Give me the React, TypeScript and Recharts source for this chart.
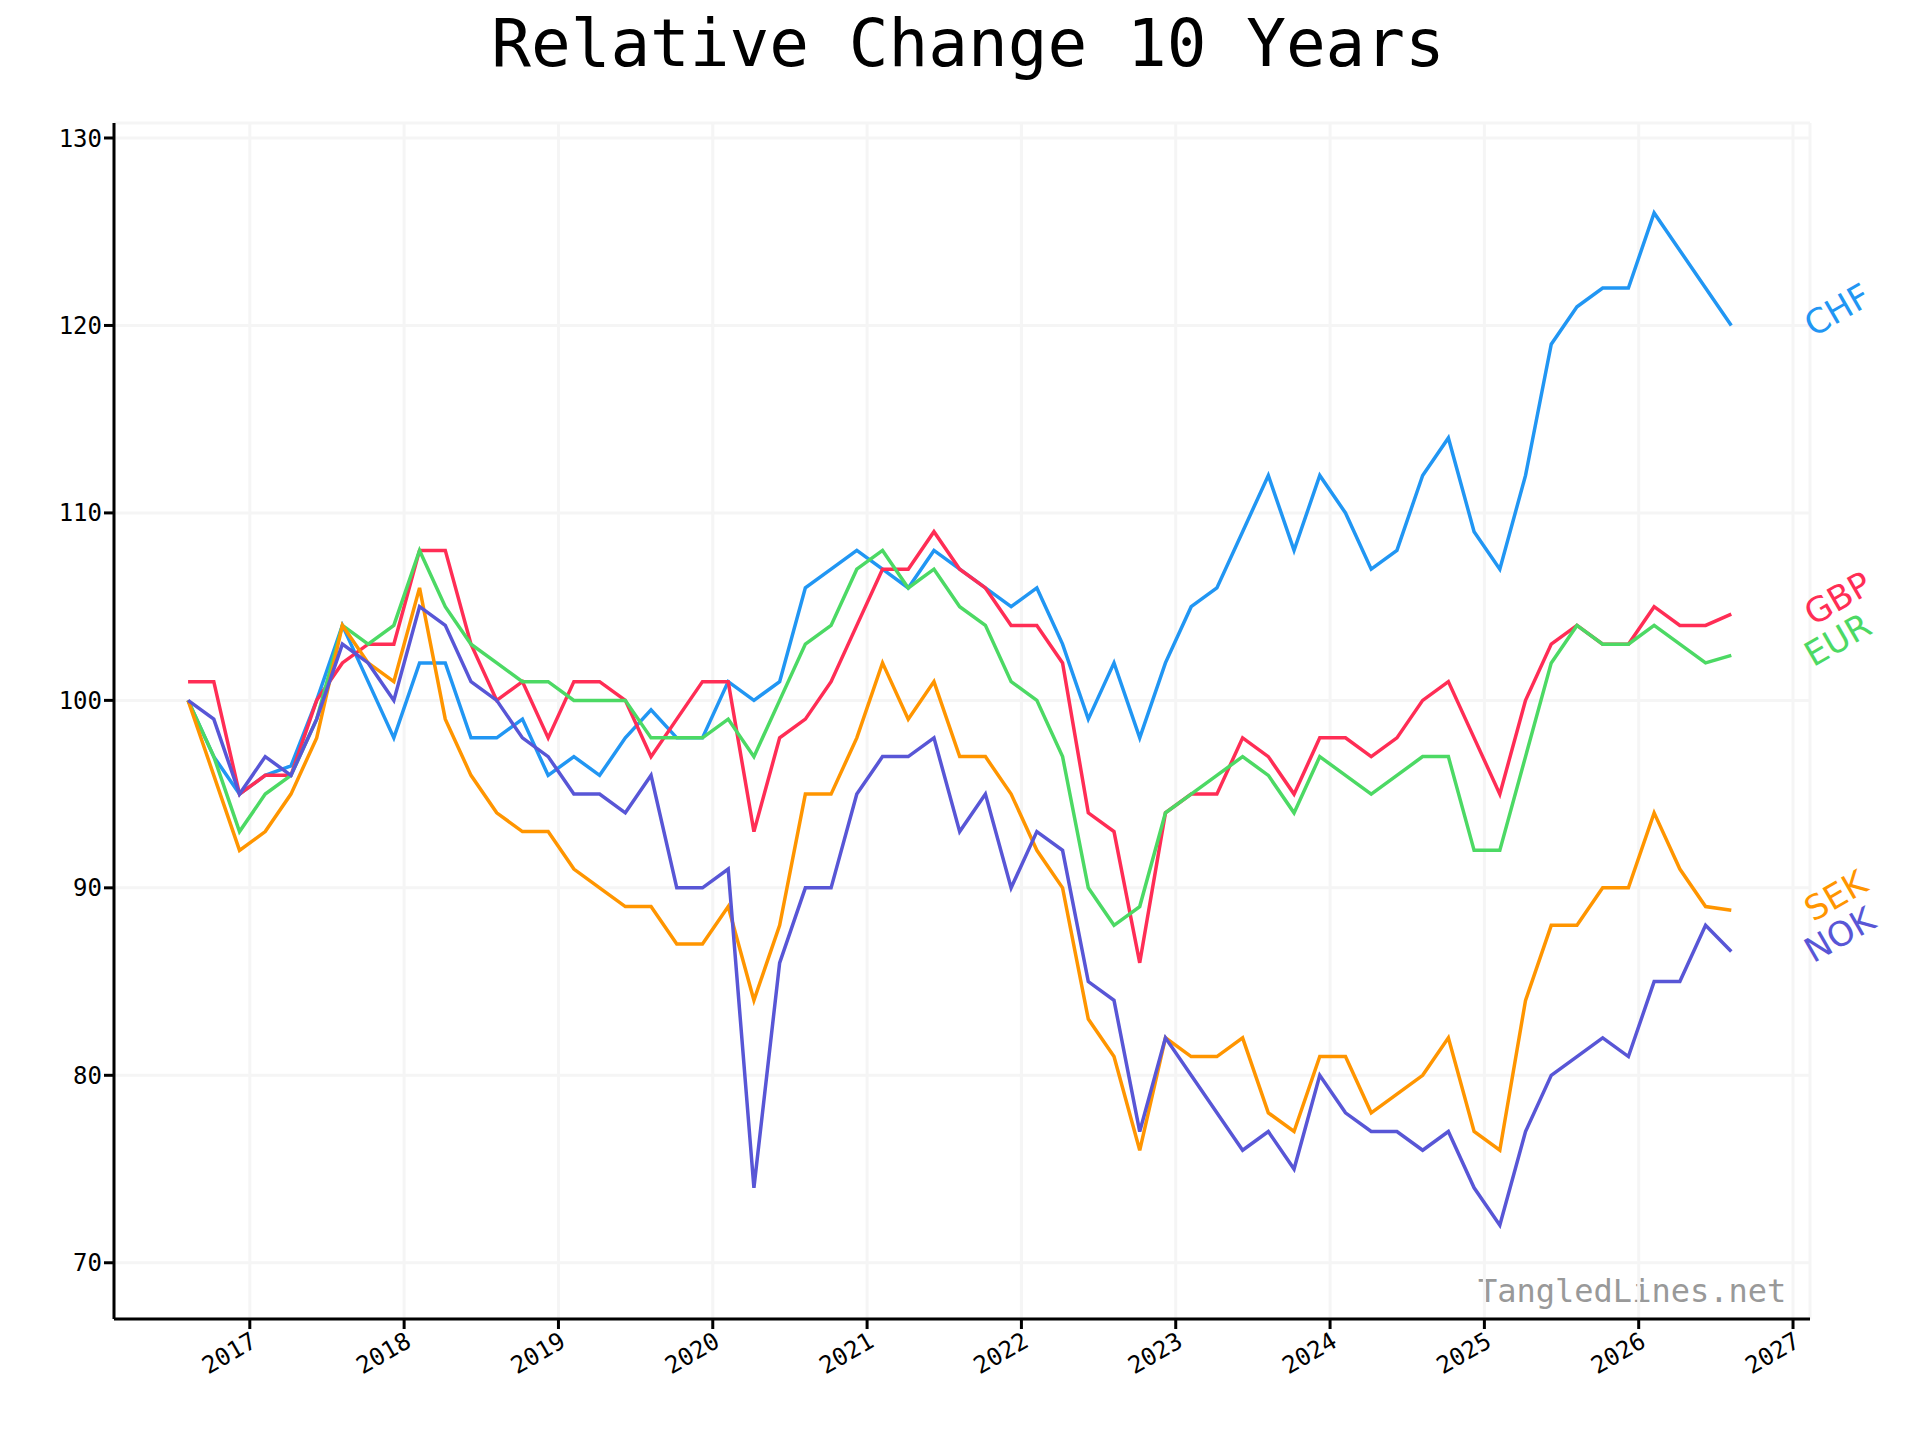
import { CartesianGrid, Line, LineChart, XAxis, YAxis } from "recharts";

const START = 2016.6;
const STEP = 1 / 6;

const chf = [100, 97, 95, 96, 96.5, 100, 104, 101, 98, 102, 102, 98, 98, 99, 96, 97, 96, 98, 99.5, 98, 98, 101, 100, 101, 106, 107, 108, 107, 106, 108, 107, 106, 105, 106, 103, 99, 102, 98, 102, 105, 106, 109, 112, 108, 112, 110, 107, 108, 112, 114, 109, 107, 112, 119, 121, 122, 122, 126, 124, 122, 120];
const gbp = [101, 101, 95, 96, 96, 100, 102, 103, 103, 108, 108, 103, 100, 101, 98, 101, 101, 100, 97, 99, 101, 101, 93, 98, 99, 101, 104, 107, 107, 109, 107, 106, 104, 104, 102, 94, 93, 86, 94, 95, 95, 98, 97, 95, 98, 98, 97, 98, 100, 101, 98, 95, 100, 103, 104, 103, 103, 105, 104, 104, 104.6];
const eur = [100, 97, 93, 95, 96, 99, 104, 103, 104, 108, 105, 103, 102, 101, 101, 100, 100, 100, 98, 98, 98, 99, 97, 100, 103, 104, 107, 108, 106, 107, 105, 104, 101, 100, 97, 90, 88, 89, 94, 95, 96, 97, 96, 94, 97, 96, 95, 96, 97, 97, 92, 92, 97, 102, 104, 103, 103, 104, 103, 102, 102.4];
const sek = [100, 96, 92, 93, 95, 98, 104, 102, 101, 106, 99, 96, 94, 93, 93, 91, 90, 89, 89, 87, 87, 89, 84, 88, 95, 95, 98, 102, 99, 101, 97, 97, 95, 92, 90, 83, 81, 76, 82, 81, 81, 82, 78, 77, 81, 81, 78, 79, 80, 82, 77, 76, 84, 88, 88, 90, 90, 94, 91, 89, 88.8];
const nok = [100, 99, 95, 97, 96, 99, 103, 102, 100, 105, 104, 101, 100, 98, 97, 95, 95, 94, 96, 90, 90, 91, 74, 86, 90, 90, 95, 97, 97, 98, 93, 95, 90, 93, 92, 85, 84, 77, 82, 80, 78, 76, 77, 75, 80, 78, 77, 77, 76, 77, 74, 72, 77, 80, 81, 82, 81, 85, 85, 88, 86.6];

const yearTicks = [2017, 2018, 2019, 2020, 2021, 2022, 2023, 2024, 2025, 2026, 2027];
const valueTicks = [70, 80, 90, 100, 110, 120, 130];

const series = [
  { key: "CHF", values: chf, color: "#2196f3" },
  { key: "GBP", values: gbp, color: "#ff2d55" },
  { key: "EUR", values: eur, color: "#4cd964" },
  { key: "SEK", values: sek, color: "#ff9500" },
  { key: "NOK", values: nok, color: "#5856d6" },
];

const data = chf.map((_, i) => {
  const row: Record<string, number> = { t: START + i * STEP };
  series.forEach((s) => (row[s.key] = s.values[i]));
  return row;
});

const last = chf.length - 1;
const mono = "'DejaVu Sans Mono', monospace";

export default function App() {
  return (
    <div style={{ position: "relative", width: 1904, height: 1424, background: "#fff" }}>
      <div
        style={{
          position: "absolute", top: -3, left: 0, width: 1920, textAlign: "center",
          fontFamily: mono, fontSize: 66, color: "#000",
        }}
      >
        Relative Change 10 Years
      </div>
      <div
        style={{
          position: "absolute", left: 1470, top: 1264, fontFamily: mono, fontSize: 32, color: "#999",
        }}
      >
        TangledLines.net
      </div>
      <LineChart width={1904} height={1424} data={data} margin={{ top: 115, right: 102, bottom: 33, left: 46 }}>
        <CartesianGrid stroke="#f5f5f5" strokeWidth={3} />
        <XAxis
          dataKey="t"
          type="number"
          domain={[2016.12, 2027.11]}
          ticks={yearTicks}
          allowDataOverflow
          height={80}
          angle={-30}
          textAnchor="end"
          interval={0}
          stroke="#000"
          strokeWidth={3}
          tickSize={10}
          tick={{ fontFamily: mono, fontSize: 24, fill: "#000" }}
        />
        <YAxis
          type="number"
          domain={[67, 130.8]}
          ticks={valueTicks}
          allowDataOverflow
          width={60}
          stroke="#000"
          strokeWidth={3}
          tickSize={10}
          tick={{ fontFamily: mono, fontSize: 24, fill: "#000" }}
        />
        {series.map((s) => (
          <Line
            key={s.key}
            dataKey={s.key}
            stroke={s.color}
            strokeWidth={3.5}
            dot={false}
            type="linear"
            isAnimationActive={false}
            label={(p: any) =>
              p.index === last ? (
                <text
                  key={s.key}
                  x={p.x + 82}
                  y={p.y + 12}
                  fill={s.color}
                  fontSize={34}
                  fontFamily="'DejaVu Sans', sans-serif"
                  transform={`rotate(-30 ${p.x + 82} ${p.y + 12})`}
                >
                  {s.key}
                </text>
              ) : (
                <g key={p.index} />
              )
            }
          />
        ))}
      </LineChart>
    </div>
  );
}
